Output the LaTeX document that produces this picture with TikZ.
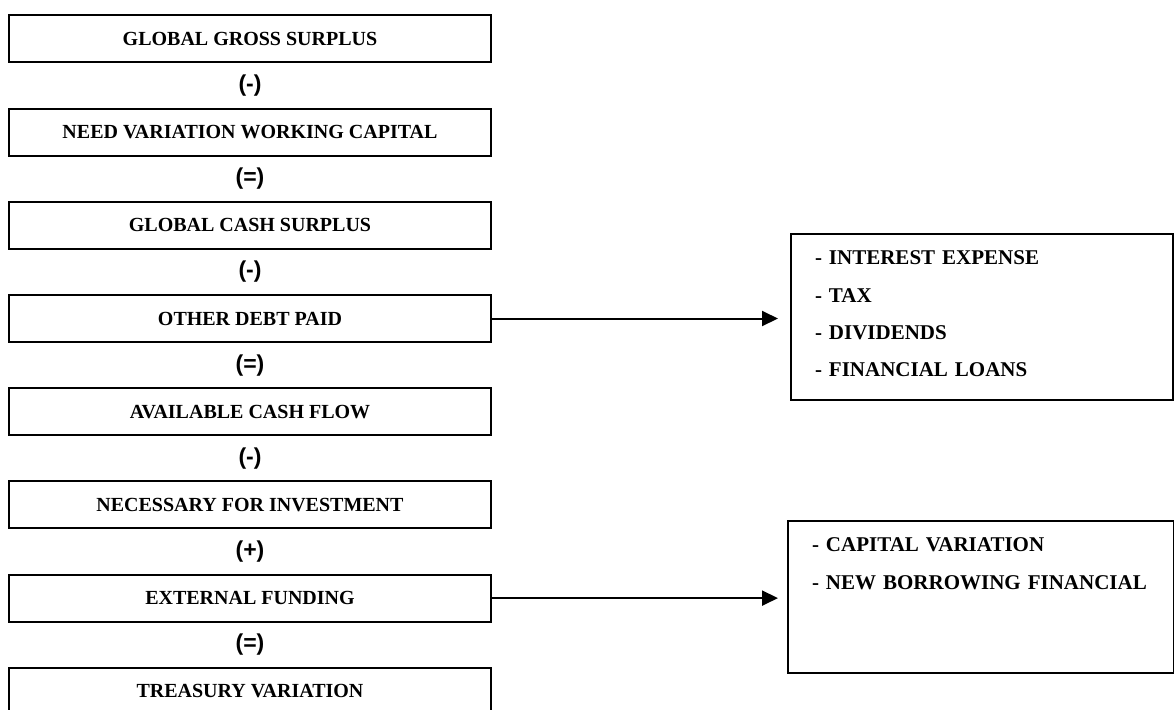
\documentclass[tikz,border=0pt]{standalone}
\usepackage{fontspec}
\setmainfont{Liberation Serif}
\newfontfamily\opfont{Liberation Sans}
\usetikzlibrary{arrows.meta,positioning}

\tikzset{
  flowbox/.style = {draw, line width = 1pt, minimum width = 241pt, minimum height = 23.5pt,
    inner sep = 0pt, outer sep = 0pt, font = \bfseries\fontsize{10}{12}\selectfont},
  opsign/.style = {minimum height = 22.1pt, inner sep = 0pt, outer sep = 0pt,
    font = \opfont\bfseries\fontsize{11.5}{12}\selectfont},
  listbox/.style = {draw, line width = 1pt, anchor = north west, align = left, outer sep = 0pt,
    inner xsep = 12pt, inner ysep = 8.3pt, text height = 7pt,
    font = \bfseries\fontsize{10.5}{18.7}\selectfont},
  feed/.style = {-{Triangle[length = 8pt, width = 7.5pt]}, line width = 1pt}
}

\begin{document}
\begin{tikzpicture}[x = 0.5pt, y = -0.5pt]
  \useasboundingbox (0,0) rectangle (1174,709);
  \matrix (chain) [anchor = north, inner sep = 0pt, row sep = 0pt] at (250,14) {
    \node[flowbox](gross) {GLOBAL GROSS SURPLUS}; \\
    \node[opsign](s1) {(-)}; \\
    \node[flowbox](wcap) {NEED VARIATION WORKING CAPITAL}; \\
    \node[opsign](s2) {(=)}; \\
    \node[flowbox](cash) {GLOBAL CASH SURPLUS}; \\
    \node[opsign](s3) {(-)}; \\
    \node[flowbox](paid) {OTHER DEBT PAID}; \\
    \node[opsign](s4) {(=)}; \\
    \node[flowbox](avail) {AVAILABLE CASH FLOW}; \\
    \node[opsign](s5) {(-)}; \\
    \node[flowbox](invest) {NECESSARY FOR INVESTMENT}; \\
    \node[opsign](s6) {(+)}; \\
    \node[flowbox](funding) {EXTERNAL FUNDING}; \\
    \node[opsign](s7) {(=)}; \\
    \node[flowbox](treasury) {TREASURY VARIATION}; \\
  };
  % detail boxes on the right
  \node[listbox, text width = 167pt, text depth = 59.4pt](debts) at (791,234)
    {- INTEREST EXPENSE\\- TAX\\- DIVIDENDS\\- FINANCIAL LOANS};
  \node[listbox, text width = 169pt, text depth = 52.4pt, font = \bfseries\fontsize{10.5}{19}\selectfont](sources) at (788,521)
    {- CAPITAL VARIATION\\- NEW BORROWING FINANCIAL};
  \draw[feed, shorten > = 6.5pt] (paid.east) -- (paid.east -| debts.west);
  \draw[feed, shorten > = 5pt] (funding.east) -- (funding.east -| sources.west);
\end{tikzpicture}
\end{document}
